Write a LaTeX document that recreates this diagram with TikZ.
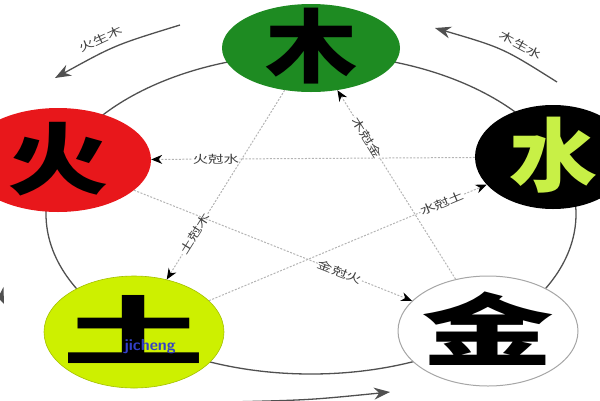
\documentclass[tikz,border=0pt]{standalone}
\usepackage{fontspec}
\setmainfont{Noto Sans CJK SC}
\usepackage{tikz}
\usetikzlibrary{shapes.geometric,arrows.meta}
\definecolor{MuGreen}{HTML}{1E8B22}
\definecolor{HuoRed}{HTML}{E8171B}
\definecolor{TuYellow}{HTML}{CDF000}
\definecolor{ShuiText}{HTML}{C8F046}
\definecolor{KeGray}{HTML}{B4B4B4}
\definecolor{RingGray}{HTML}{505050}
\definecolor{MarkBlue}{HTML}{3340C8}
\tikzstyle{elem}=[ellipse,inner sep=0pt]
\tikzstyle{mu}=[fill=MuGreen]
\tikzstyle{huo}=[fill=HuoRed]
\tikzstyle{shui}=[fill=black,text=ShuiText]
\tikzstyle{tu}=[fill=TuYellow,draw=TuYellow!80!black,line width=0.6pt]
\tikzstyle{jin}=[fill=white,draw=gray!70,line width=1pt]
\tikzstyle{ring}=[draw=RingGray,line width=1.3pt]
\tikzstyle{ke}=[draw=KeGray,line width=1pt,dash pattern=on 2pt off 1.5pt,-{Stealth[length=11pt,width=9pt,color=black]}]
\tikzstyle{kelabel}=[font=\fontsize{11}{11}\selectfont,text=black!75,fill=white,inner sep=0.5pt,sloped]
\tikzstyle{shenglabel}=[font=\fontsize{11}{11}\selectfont,text=black!75,sloped,above=4pt]
\newcommand{\bigzi}[3]{{\fontsize{#2}{#2}\selectfont\bfseries\smash{\makebox[0pt]{\raisebox{-0.36em}{\scalebox{#1}[1]{#3}}}}}}
\newcommand{\xiaozi}[1]{\scalebox{1.4}[1]{#1}}

\begin{document}
\begin{tikzpicture}[x=1pt,y=-1pt]
\useasboundingbox (0,0) rectangle (600,400);
% ring round the five
\draw[ring] (311,214) ellipse [x radius=265pt,y radius=160pt];

\node[elem,mu,minimum width=178pt,minimum height=88pt] (mu) at (311,48) {\bigzi{1.15}{80}{木}};
\node[elem,huo,minimum width=186pt,minimum height=104pt] (huo) at (58,160) {\bigzi{1.3}{78}{火}};
\node[elem,shui,minimum width=156pt,minimum height=104pt] (shui) at (553,157) {\bigzi{1.1}{80}{水}};
\node[elem,tu,minimum width=180pt,minimum height=112pt] (tu) at (134,332) {\bigzi{1.9}{75}{土}};
\node[elem,jin,minimum width=180pt,minimum height=110pt] (jin) at (488,331) {\bigzi{1.7}{78}{金}};
\node[font=\sffamily\bfseries\fontsize{16}{16}\selectfont,text=MarkBlue] (mark) at (150,347) {jicheng};

% star
\foreach \source/\dest/\txt/\p in {shui/huo/火尅水/0.8, mu/tu/土尅木/0.76,
  jin/mu/木尅金/0.75, huo/jin/金尅火/0.74, tu/shui/水尅土/0.84}
  \draw[ke] (\source) edge node[kelabel,pos=\p]{\xiaozi{\txt}} (\dest);

% outer arrows
\coordinate (a1) at (55,78);
\coordinate (a2) at (180,25);
\coordinate (b1) at (435,28);
\coordinate (b2) at (557,82);
\coordinate (c1) at (-18,225);
\coordinate (c2) at (4,304);
\coordinate (d1) at (228,402);
\coordinate (d2) at (390,392);
\draw[ring,{Stealth[length=16pt,width=12pt]}-] (a1) .. controls (115,45) .. (a2)
  node[pos=0.4,shenglabel] {\xiaozi{火生木}};
\draw[ring,{Stealth[length=16pt,width=12pt]}-] (b1) .. controls (503,48) .. (b2)
  node[pos=0.65,shenglabel] {\xiaozi{木生水}};
\draw[ring,-{Stealth[length=16pt,width=12pt]}] (c1) .. controls (-10,270) .. (c2);
\draw[ring,-{Stealth[length=16pt,width=12pt]}] (d1) .. controls (310,400) .. (d2);

\end{tikzpicture}
\end{document}
